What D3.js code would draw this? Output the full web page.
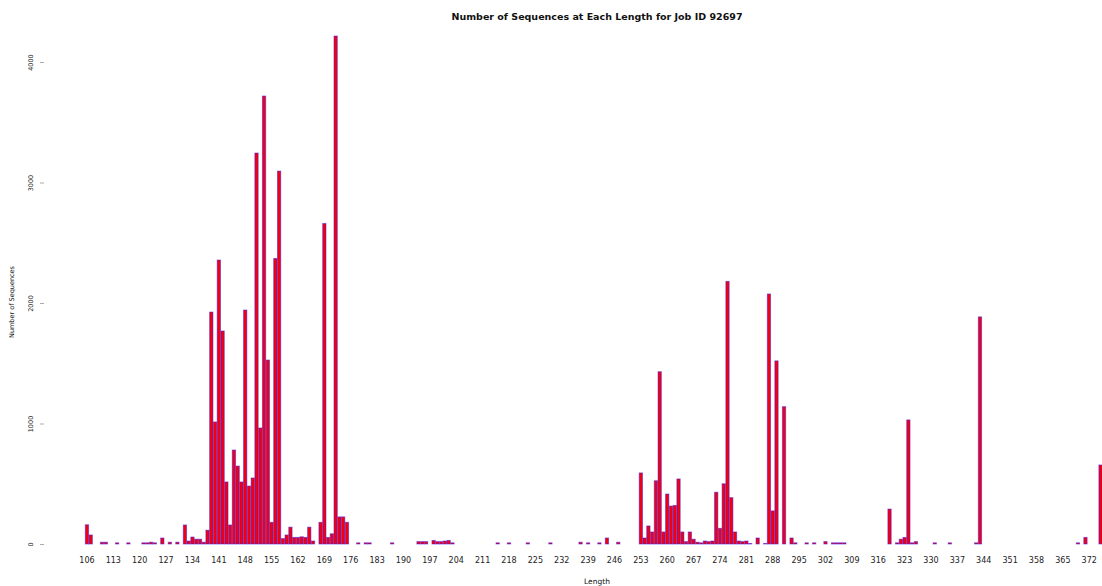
<!DOCTYPE html>
<html>
<head>
<meta charset="utf-8">
<script src="https://cdn.jsdelivr.net/npm/d3@7"></script>
<style>
  body { margin: 0; background: #fff; }
  svg { display: block; }
  text { font-family: "DejaVu Sans", sans-serif; fill: #111; }
</style>
</head>
<body>
<svg width="1102" height="586"></svg>
<script>
// lengths that have sequences, and how many sequences each one has
var lengths = [106, 107, 110, 111, 114, 117, 121, 122, 123, 124, 126, 128, 130,
  132, 133, 134, 135, 136, 137, 138, 139, 140, 141, 142, 143, 144, 145, 146, 147,
  148, 149, 150, 151, 152, 153, 154, 155, 156, 157, 158, 159, 160, 161, 162, 163,
  164, 165, 166, 168, 169, 170, 171, 172, 173, 174, 175, 178, 180, 181, 187, 194,
  195, 196, 198, 199, 200, 201, 202, 203, 215, 218, 223, 229, 237, 239, 242, 244,
  247, 253, 254, 255, 256, 257, 258, 259, 260, 261, 262, 263, 264, 265, 266, 267,
  268, 269, 270, 271, 272, 273, 274, 275, 276, 277, 278, 279, 280, 281, 282, 284,
  286, 287, 288, 289, 291, 293, 294, 297, 299, 302, 304, 305, 306, 307, 319, 321,
  322, 323, 324, 325, 326, 331, 335, 342, 343, 369, 371, 375];

var counts = [160, 75, 15, 15, 10, 10, 10, 10, 15, 10, 50, 15, 15,
  158, 25, 58, 40, 40, 15, 115, 1925, 1013, 2357, 1768, 515, 158, 780, 647, 515,
  1942, 481, 548, 3245, 963, 3718, 1527, 180, 2370, 3095, 45, 75, 140, 55, 55, 60,
  55, 140, 25, 180, 2660, 55, 85, 4216, 225, 225, 180, 10, 10, 10, 10, 20,
  20, 20, 30, 20, 20, 25, 30, 10, 10, 10, 10, 10, 15, 10, 10, 50,
  15, 590, 50, 150, 100, 525, 1430, 100, 415, 315, 320, 540, 100, 20, 100, 40,
  15, 10, 25, 20, 25, 430, 130, 500, 2180, 385, 100, 25, 20, 25, 5, 50,
  5, 2075, 275, 1520, 1140, 50, 10, 10, 10, 20, 10, 10, 10, 10, 290, 10,
  40, 55, 1030, 10, 20, 10, 10, 10, 1885, 10, 55, 656];

var firstLength = 106, lastLength = 375;
var xTickLabels = [106, 113, 120, 127, 134, 141, 148, 155, 162, 169, 176, 183, 190,
  197, 204, 211, 218, 225, 232, 239, 246, 253, 260, 267, 274, 281, 288, 295, 302,
  309, 316, 323, 330, 337, 344, 351, 358, 365, 372];
var yTickLabels = [0, 1000, 2000, 3000, 4000];

var chartTitle = "Number of Sequences at Each Length for Job ID 92697";

var data = lengths.map(function (d, i) { return {length: d, count: counts[i]}; });

var svg = d3.select("svg"), width = +svg.attr("width"), height = +svg.attr("height");
var margin = {top: 36, right: 0, bottom: 42, left: 85.3};

var x = d3.scaleBand()
          .domain(d3.range(firstLength, lastLength + 1))
          .range([margin.left, width + 0.2])
          .paddingInner(0.12)
          .paddingOuter(0);

var y = d3.scaleLinear()
          .domain([0, d3.max(counts)])
          .range([height - margin.bottom, margin.top]);

// bars
svg.append("g")
   .selectAll("rect")
   .data(data)
   .enter()
   .append("rect")
   .attr("x", function (d) { return x(d.length); })
   .attr("y", function (d) { return y(d.count); })
   .attr("width", x.bandwidth())
   .attr("height", function (d) { return y(0) - y(d.count); })
   .attr("fill", "#f00010")
   .attr("stroke", "#3a1cf0")
   .attr("stroke-opacity", 0.55)
   .attr("stroke-width", 0.9);

// x axis, labels only
var xAxis = d3.axisBottom(x)
              .tickValues(xTickLabels)
              .tickSize(0)
              .tickPadding(13);

var gx = svg.append("g")
            .attr("transform", "translate(0," + (height - margin.bottom) + ")")
            .call(xAxis);
gx.select(".domain").remove();
gx.selectAll("text")
  .style("font-size", "8px")
  .style("fill", "#222");

// y axis, small ticks and rotated labels
var yAxis = d3.axisLeft(y)
              .tickValues(yTickLabels)
              .tickFormat(d3.format("d"))
              .tickSize(4)
              .tickPadding(0);

var gy = svg.append("g")
            .attr("transform", "translate(44,0)")
            .call(yAxis);
gy.select(".domain").remove();
gy.selectAll("line").attr("stroke", "#888").attr("stroke-width", 0.7);
gy.selectAll("text")
  .attr("x", null).attr("dy", null)
  .attr("text-anchor", "middle")
  .attr("transform", "translate(-13,0) rotate(-90)")
  .attr("dy", "0.35em")
  .style("font-size", "6.5px")
  .style("fill", "#222");

// titles
svg.append("text")
   .attr("x", 597)
   .attr("y", 20)
   .attr("text-anchor", "middle")
   .style("font-size", "9.5px")
   .style("font-weight", "bold")
   .text(chartTitle);

svg.append("text")
   .attr("x", 597)
   .attr("y", 584)
   .attr("text-anchor", "middle")
   .style("font-size", "7.5px")
   .text("Length");

svg.append("text")
   .attr("transform", "translate(14,302) rotate(-90)")
   .attr("text-anchor", "middle")
   .style("font-size", "6.5px")
   .text("Number of Sequences");
</script>
</body>
</html>
